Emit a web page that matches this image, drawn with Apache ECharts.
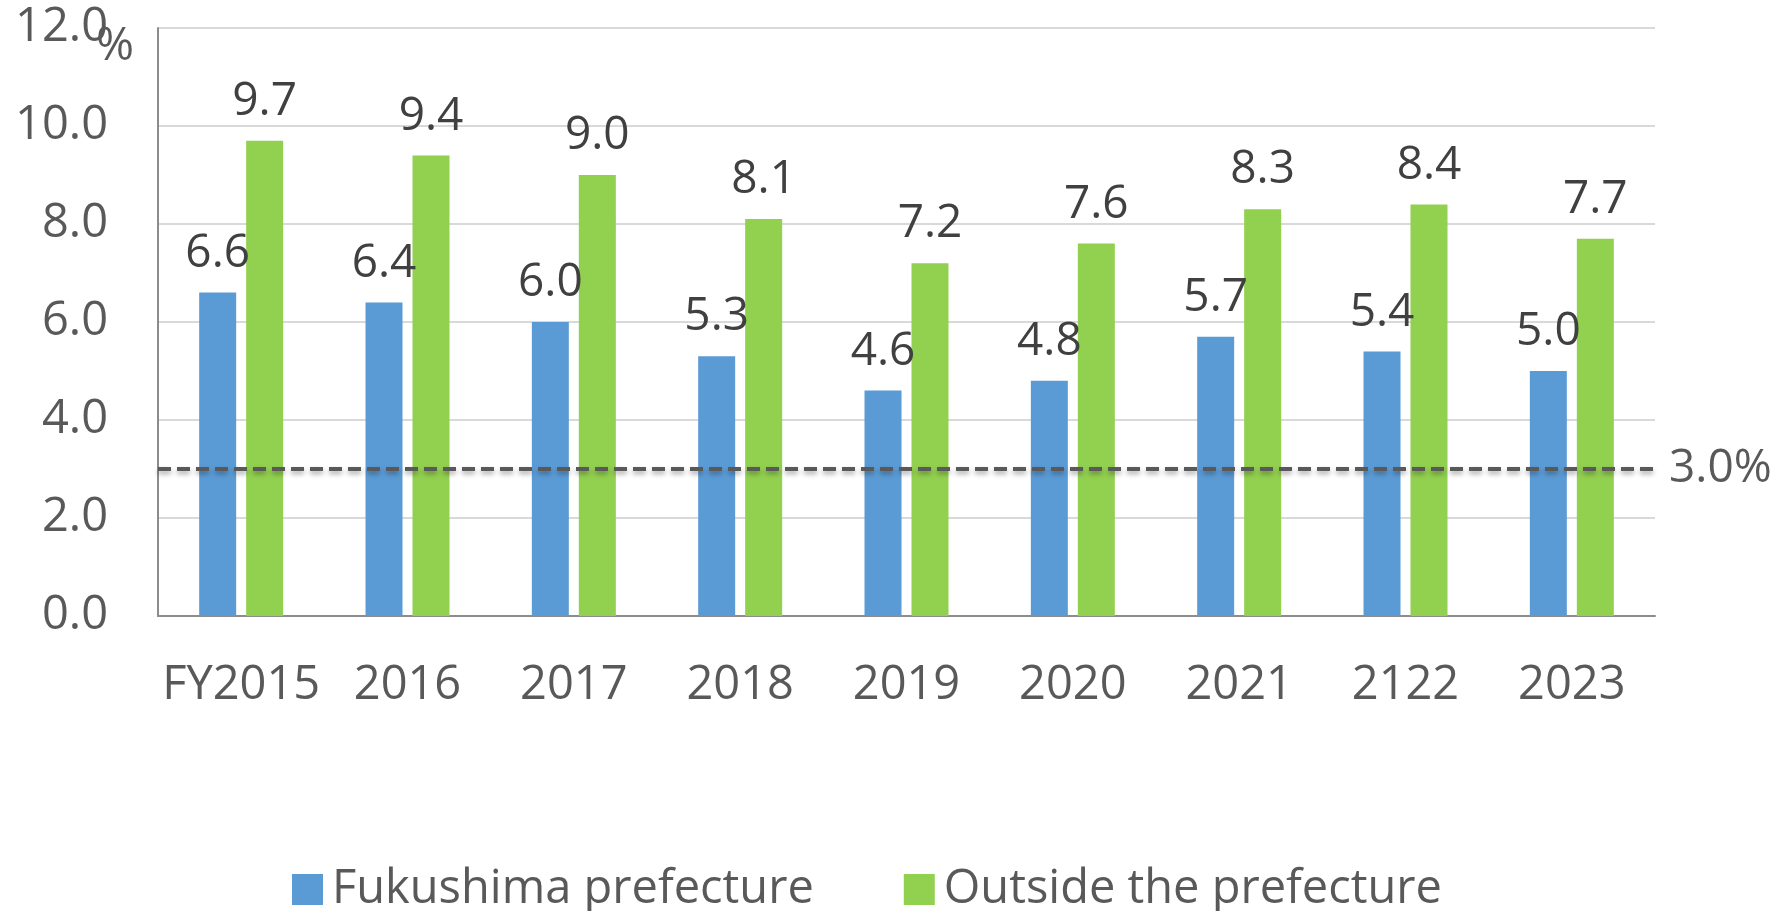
<!DOCTYPE html>
<html>
<head>
<meta charset="utf-8">
<script src="https://cdn.jsdelivr.net/npm/echarts@6/dist/echarts.min.js"></script>
<style>
  html, body { margin: 0; padding: 0; background: #fff; }
  #chart { width: 1783px; height: 911px; }
</style>
</head>
<body>
<div id="chart"></div>
<script>
// data
var categories = ["FY2015", "2016", "2017", "2018", "2019", "2020", "2021", "2122", "2023"];
var fukushima = [6.6, 6.4, 6.0, 5.3, 4.6, 4.8, 5.7, 5.4, 5.0];
var outside = [9.7, 9.4, 9.0, 8.1, 7.2, 7.6, 8.3, 8.4, 7.7];
var seriesNames = ["Fukushima prefecture", "Outside the prefecture"];
var targetLine = 3.0;

var font = "'Open Sans', 'Noto Sans', sans-serif";
var chart = echarts.init(document.getElementById("chart"));

function valueLabel() {
  return {
    show: true,
    position: "top",
    distance: 16,
    fontFamily: font,
    fontSize: 46,
    color: "#404040",
    formatter: function (p) { return p.value.toFixed(1); }
  };
}

chart.setOption({
  animation: false,
  backgroundColor: "#ffffff",
  color: ["#5B9BD5", "#92D050"],
  grid: { left: 158, right: 128, top: 28, bottom: 295 },
  legend: {
    data: seriesNames,
    left: 287,
    top: 861,
    itemWidth: 31,
    itemHeight: 31,
    itemGap: 90,
    icon: "rect",
    textStyle: { fontFamily: font, fontSize: 47, color: "#595959", padding: [0, 0, 0, 4] }
  },
  graphic: [{
    type: "text",
    left: 96,
    top: 24,
    style: { text: "%", font: "46px " + font, fill: "#595959" }
  }],
  xAxis: {
    type: "category",
    data: categories,
    axisLine: { lineStyle: { color: "#8c8c8c", width: 2 } },
    axisTick: { show: false },
    axisLabel: { interval: 0, fontFamily: font, fontSize: 47, color: "#595959", margin: 46, lineHeight: 47 }
  },
  yAxis: {
    type: "value",
    min: 0,
    max: 12,
    interval: 2,
    axisLine: { show: true, lineStyle: { color: "#8c8c8c", width: 2 } },
    axisTick: { show: false },
    splitLine: { lineStyle: { color: "#d9d9d9", width: 2 } },
    axisLabel: {
      fontFamily: font, fontSize: 47, color: "#595959", margin: 50,
      formatter: function (v) { return v.toFixed(1); }
    }
  },
  series: [
    {
      name: seriesNames[0],
      type: "bar",
      data: fukushima,
      barWidth: 37,
      barGap: "27%",
      label: valueLabel(),
      markLine: {
        silent: true,
        symbol: "none",
        data: [{ yAxis: targetLine }],
        lineStyle: {
          color: "#595959",
          width: 4,
          type: [13, 6],
          shadowColor: "rgba(0,0,0,0.35)",
          shadowBlur: 5,
          shadowOffsetY: 3
        },
        label: {
          position: "end",
          distance: 14,
          fontFamily: font,
          fontSize: 46,
          color: "#595959",
          formatter: function (p) { return p.value.toFixed(1) + "%"; }
        }
      }
    },
    {
      name: seriesNames[1],
      type: "bar",
      data: outside,
      barWidth: 37,
      label: valueLabel()
    }
  ]
});
</script>
</body>
</html>
